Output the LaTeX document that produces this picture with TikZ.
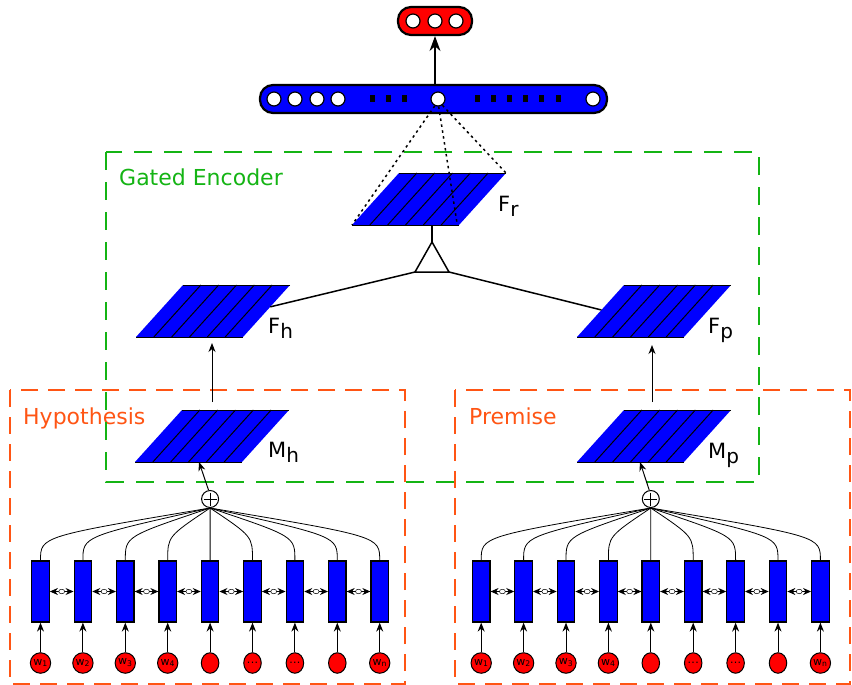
\documentclass[tikz,border=0pt]{standalone}
\usepackage{fontspec}
\setmainfont{DejaVu Sans}
\usetikzlibrary{arrows.meta,calc,shapes.geometric}
\definecolor{orng}{RGB}{255,85,20}
\definecolor{grn}{RGB}{20,180,20}
\newcommand\pgram[3]{%
  \coordinate (#1-bl) at (#2,#3);
  \coordinate (#1-br) at ($(#1-bl)+(107,0)$);
  \coordinate (#1-tl) at ($(#1-bl)+(47,-52)$);
  \coordinate (#1-tr) at ($(#1-bl)+(154,-52)$);
  \fill[blue] (#1-bl)--(#1-br)--(#1-tr)--(#1-tl)--cycle;
  \foreach \k in {1,...,5}{\draw[line width=1pt] ($(#1-bl)+(\k*107/6,0)$) -- ($(#1-tl)+(\k*107/6,0)$);}
  \draw[line width=1pt] (#1-bl)--(#1-br) (#1-tl)--(#1-tr);
}
\newcommand\lbl[2]{#1\raisebox{-5pt}{\fontsize{20}{20}\selectfont #2}}
\newcommand\wdots{.\kern0.3pt.\kern0.3pt.}
\begin{document}
\begin{tikzpicture}[x=1pt,y=-1pt,
  circ/.style={circle,draw,fill=white,line width=1.2pt,minimum size=14pt,inner sep=0pt},
  sq/.style={fill=black,minimum width=5pt,minimum height=7pt,inner sep=0pt},
  pill/.style={draw,line width=2.2pt,rounded corners=13pt,inner sep=0pt},
  lstm/.style={draw,fill=blue,line width=1.2pt,minimum width=17.5pt,minimum height=61pt,inner sep=0pt},
  word/.style={ellipse,draw,fill=red,line width=1pt,minimum width=17.5pt,minimum height=20.5pt,inner sep=0pt,font=\fontsize{11}{11}\selectfont},
  oplusnode/.style={circle,draw,fill=white,line width=1pt,minimum size=17pt,inner sep=0pt,
    path picture={\draw[line width=0.8pt] ($(path picture bounding box.north)+(0,-2pt)$) -- ($(path picture bounding box.south)+(0,2pt)$)
      ($(path picture bounding box.west)+(2pt,0)$) -- ($(path picture bounding box.east)+(-2pt,0)$);}},
  midnode/.style={ellipse,draw,fill=white,line width=0.5pt,minimum width=6pt,minimum height=4.5pt,inner sep=0pt},
  arr/.style={-{Stealth[length=9pt,width=7pt]},line width=1pt},
  bigarr/.style={-{Stealth[length=15pt,width=11pt]},line width=1.1pt},
  dblarr/.style={{Stealth[length=8pt,width=7pt]}-{Stealth[length=8pt,width=7pt]},line width=1pt},
  curve/.style={line width=0.8pt},
  dotl/.style={line width=1.5pt,dash pattern=on 2.5pt off 3.5pt},
  obox/.style={draw=orng,line width=2pt,dash pattern=on 17pt off 10pt},
  gbox/.style={draw=grn,line width=2pt,dash pattern=on 18pt off 12pt},
  title/.style={font=\fontsize{22}{22}\selectfont,anchor=base west,inner sep=0pt},
  plabel/.style={font=\fontsize{21}{21}\selectfont,anchor=base west,inner sep=0pt}
]
\useasboundingbox (0,0) rectangle (852,685);

% boxes
\draw[obox] (10,390) rectangle (405,684);
\draw[obox] (455,390) rectangle (850,684);
\node[title,text=orng] (thyp) at (23,424) {Hypothesis};
\node[title,text=orng] (tprem) at (469,424) {Premise};
\draw[gbox] (106,152) rectangle (759,482);
\node[title,text=grn] (tgated) at (119,185) {Gated Encoder};

% output and representation bars
\node[pill,fill=red,minimum width=74pt,minimum height=28pt] (out) at (435,21) {};
\foreach \x [count=\n] in {413,435,456}{\node[circ] (oc\n) at (\x,21) {};}
\node[pill,fill=blue,minimum width=347pt,minimum height=28pt] (bar) at (433.5,99) {};
\foreach \x [count=\n] in {274,295,317,338,593}{\node[circ] (bc\n) at (\x,99) {};}
\node[circ] (mid) at (438,99) {};
\foreach \x [count=\n] in {372,388,404,477,493,509,525,541,558}{\node[sq] (bs\n) at (\x,99) {};}
\draw[bigarr] (bar.north -| out.south) -- (out.south);

% parallelograms
\pgram{Fr}{352}{225}
\pgram{Fh}{136}{337}
\pgram{Fp}{577}{337}
\pgram{Mh}{135}{462}
\pgram{Mp}{577}{462}
\node[plabel] (lFr) at (498,211) {\lbl{F}{r}};
\node[plabel] (lFh) at (268,333) {\lbl{F}{h}};
\node[plabel] (lFp) at (708,333) {\lbl{F}{p}};
\node[plabel] (lMh) at (268,457) {\lbl{M}{h}};
\node[plabel] (lMp) at (708,458) {\lbl{M}{p}};

% dotted links
\draw[dotl] (mid.245) -- (Fr-bl);
\draw[dotl] (mid.275) -- ($(Fr-br)+(-2,-2)$);
\draw[dotl] (mid.305) -- (Fr-tr);

% gate triangle
\coordinate (tA) at (432,242);
\coordinate (tL) at (415,272);
\coordinate (tR) at (449,272);
\draw[line width=1.5pt] ($(Fr-bl)+(80,0)$) -- (tA);
\draw[line width=1.5pt] (tA) -- (tR) -- (tL) -- cycle;
\draw[line width=1.5pt] (tL) -- ($(Fh-br)!0.58!(Fh-tr)$);
\draw[line width=1.5pt] (tR) -- ($(Fp-bl)!0.52!(Fp-tl)$);

% M -> F
\draw[arr] ($(Mh-bl)+(77,-60)$) -- ($(Mh-bl)+(77,-119)$);
\draw[arr] ($(Mp-bl)+(75,-60)$) -- ($(Mp-bl)+(75,-117)$);

% LSTM rows
\foreach \s/\off in {h/0,p/440.7}{
  \foreach \i/\t in {1/w\textsubscript{1},2/w\textsubscript{2},3/w\textsubscript{3},4/w\textsubscript{4},5/,6/\wdots,7/\wdots,8/,9/w\textsubscript{n}}{
    \node[lstm] (r\s\i) at ({\off+40.5+42.4*(\i-1)},591.5) {};
    \node[word] (w\s\i) at ({\off+40.5+42.4*(\i-1)},663) {\t};
  }
  \node[oplusnode] (o\s) at ({\off+210.1},499) {};
}
\foreach \s in {h,p}{
  \foreach \i in {1,...,9}{
    \draw[arr] (w\s\i) -- (r\s\i);
    \ifnum\i=5
      \draw[curve] (r\s\i.north) -- (o\s.south);
    \else
      \draw[curve] (r\s\i.north) .. controls ($(r\s\i.north)+(0,-24)$) .. (o\s.south);
    \fi
  }
  \foreach \i [count=\j from 2] in {1,...,8}{
    \draw[dblarr] (r\s\i.east) -- (r\s\j.west);
    \node[midnode] (m\s\i) at ($(r\s\i.east)!0.5!(r\s\j.west)$) {};
  }
}
\draw[arr] (oh.100) -- ($(Mh-bl)+(64,0)$);
\draw[arr] (op.100) -- ($(Mp-bl)+(63,0)$);
\end{tikzpicture}
\end{document}
